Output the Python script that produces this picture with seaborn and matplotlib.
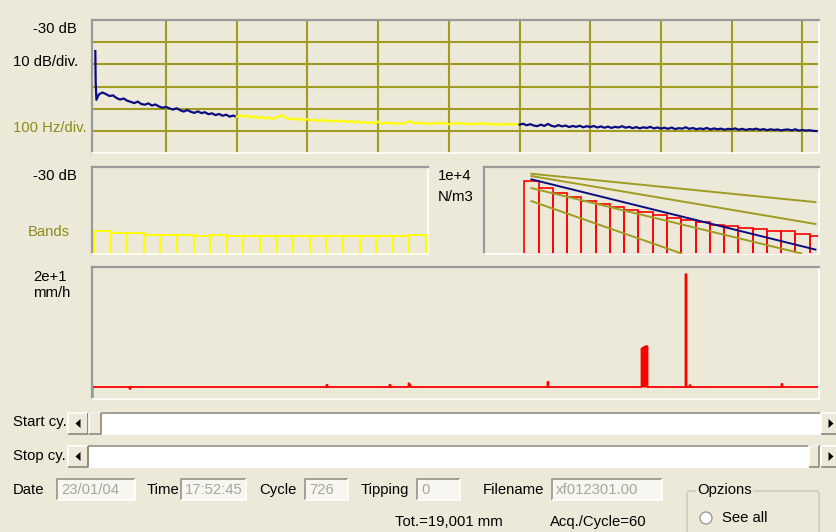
import numpy as np
import pandas as pd
import matplotlib
matplotlib.use("Agg")
import matplotlib.pyplot as plt
from matplotlib.patches import Rectangle, Polygon, Circle, FancyBboxPatch
import seaborn as sns

W, H = 837, 532
BG = "#ECE9D8"
OLIVE = "#A09B22"
OLIVE_TXT = "#8E8A1C"
NAVY = "#0C0C82"
FRAME_DARK = "#9A9A9A"
BOX_TXT = "#A8A79C"

# ---------------- spectrum, dB (10 dB/div, 100 Hz/div) ----------------
spec_low_hz = [0, 0.5, 1.5] + list(range(5, 201, 5))
spec_low_db = [-44.0, -58.0, -66.0,
               -63.6, -62.7, -63.4, -64.3, -64.0, -65.2, -65.9, -65.4, -66.4, -66.9,
               -67.5, -66.8, -67.9, -68.2, -67.6, -68.6, -68.1, -69.0, -69.6, -69.2,
               -69.9, -70.4, -69.8, -70.7, -71.3, -70.6, -71.4, -71.9, -71.2, -72.0,
               -71.6, -72.5, -72.1, -72.9, -72.4, -73.2, -72.7, -73.6, -73.1, -73.8]
spec_mid_start = 200
spec_mid_db = [-73.8, -72.9, -73.6, -73.1, -74.0, -73.4, -74.2, -73.7, -74.5, -73.9,
               -74.6, -74.1, -73.5, -72.9, -74.4, -74.8, -74.2, -75.1, -74.6, -75.3,
               -74.7, -75.4, -74.9, -75.6, -75.0, -75.7, -75.2, -75.9, -75.3, -75.8,
               -75.4, -76.1, -75.5, -76.2, -75.6, -76.4, -75.9, -76.6, -76.0, -76.7,
               -75.8, -76.9, -76.2, -76.8, -76.3, -77.0, -76.4, -76.9, -76.1, -75.7,
               -76.6, -76.2, -76.9, -76.3, -77.0, -76.5, -76.9, -76.2, -76.8, -76.4,
               -77.1, -76.5, -76.9, -76.3, -77.0, -76.6, -77.2, -76.7, -77.0, -76.4,
               -77.1, -76.6, -77.2, -76.8, -77.3, -76.9, -77.2, -76.8, -77.3, -76.9,
               -77.2]
spec_high_start = 600
spec_high_db = [-77.2, -76.8, -77.5, -77.0, -77.6, -77.9, -77.2, -77.8, -76.9, -77.7,
                -78.1, -77.4, -78.0, -77.6, -78.3, -77.8, -78.2, -77.7, -78.4, -77.9,
                -78.3, -77.8, -78.5, -78.0, -78.6, -78.1, -78.7, -78.2, -78.5, -77.9,
                -78.6, -78.2, -78.8, -78.3, -78.9, -78.4, -78.7, -78.2, -78.9, -78.5,
                -79.0, -78.6, -79.1, -78.5, -79.2, -78.8, -79.0, -78.4, -79.1, -78.7,
                -79.3, -78.9, -79.2, -78.7, -79.4, -78.9, -79.3, -79.0, -79.5, -79.1,
                -79.3, -78.9, -79.5, -79.1, -79.6, -79.2, -79.4, -79.0, -79.6, -79.2,
                -79.7, -79.3, -79.6, -79.4, -79.8, -79.5, -79.4, -79.8, -79.3, -79.9,
                -79.6, -79.9, -79.7, -80.0, -80.1]
spec_step_hz = 5

# ---------------- band levels, dB ----------------
band_db = [-74.0, -75.8, -75.8, -77.0, -77.0, -77.0, -77.7, -77.0, -77.7, -77.7,
           -77.7, -77.7, -77.7, -77.7, -77.7, -77.7, -77.7, -77.7, -77.7, -77.0]
band_floor_db = -90

# ---------------- pressure per band, N/m3 ----------------
pressure = [2260, 1070, 650, 410, 270, 190, 143, 107, 84, 59, 46,
            35, 29, 22, 19, 16, 14, 11.5, 11, 8.7, 6.5]
# reference lines: (band start, value start, band end, value end)
ref_olive = [(0.0, 4900, 19.9, 243),
             (0.0, 3850, 19.9, 24),
             (0.0, 1070, 18.9, 1.07),
             (0.0, 270, 10.5, 1.07)]
ref_blue = (0.0, 2700, 19.9, 1.6)

# ---------------- rate per cycle, mm/h ----------------
n_cycles = 726
event_cycle = [0, 38, 235, 298, 317, 318, 456, 550, 551, 552, 553, 554, 555, 594, 598, 690]
event_rate = [-1.8, -0.3, 0.35, 0.35, 0.6, 0.3, 0.85, 6.4, 6.5, 6.6, 6.7, 6.8, 6.8, 18.8, 0.3, 0.5]

# ---------------- form fields ----------------
field_labels = ["Date", "Time", "Cycle", "Tipping", "Filename"]
field_values = ["23/01/04", "17:52:45", "726", "0", "xf012301.00"]
total_text = "Tot.=19,001 mm"
acq_text = "Acq./Cycle=60"

plt.rcParams["font.family"] = ["Liberation Sans", "DejaVu Sans"]
FS = 10.7

fig = plt.figure(figsize=(W / 100, H / 100), dpi=100, facecolor=BG)


def px_axes(x0, y0, x1, y1, z=1):
    return fig.add_axes([x0 / W, 1 - y1 / H, (x1 - x0) / W, (y1 - y0) / H], zorder=z)


# background canvas in pixel units for the form controls
bg = px_axes(0, 0, W, H, z=-1)
bg.set_xlim(0, W)
bg.set_ylim(H, 0)
bg.axis("off")
bg.add_patch(Rectangle((0, 0), W, H, facecolor=BG, edgecolor="none"))


def style_panel(ax):
    ax.set_facecolor(BG)
    for s in ("top", "left"):
        ax.spines[s].set_color(FRAME_DARK)
        ax.spines[s].set_linewidth(1.6)
    for s in ("bottom", "right"):
        ax.spines[s].set_color("white")
        ax.spines[s].set_linewidth(1.2)
    ax.tick_params(length=0, labelbottom=False, labelleft=False)
    ax.set_xlabel("")
    ax.set_ylabel("")


# ---- top: spectrum ----
ax1 = px_axes(92, 20, 819, 153)
spec = pd.concat([
    pd.DataFrame({"hz": spec_low_hz, "db": spec_low_db, "range": "low"}),
    pd.DataFrame({"hz": spec_mid_start + spec_step_hz * np.arange(len(spec_mid_db)),
                  "db": spec_mid_db, "range": "mid"}),
    pd.DataFrame({"hz": spec_high_start + spec_step_hz * np.arange(len(spec_high_db)),
                  "db": spec_high_db, "range": "high"}),
], ignore_index=True)
sns.lineplot(data=spec, x="hz", y="db", hue="range",
             palette={"low": NAVY, "mid": "#FFFF00", "high": NAVY},
             estimator=None, legend=False, lw=1.6, ax=ax1)
ax1.set_xlim(-4.7, 1023.5)
ax1.set_ylim(-90, -30)
ax1.set_xticks(range(100, 1001, 100))
ax1.set_yticks(range(-80, -39, 10))
ax1.grid(True, color=OLIVE, lw=1.5)
ax1.set_axisbelow(True)
style_panel(ax1)

# ---- middle left: bands ----
ax2 = px_axes(92, 167, 428, 254)
sns.barplot(x=list(range(len(band_db))), y=np.array(band_db) - band_floor_db,
            fill=False, color="#FFFF00", saturation=1, width=1, linewidth=1.4,
            errorbar=None, ax=ax2)
ax2.set_xlim(-0.62, 19.62)
ax2.set_ylim(0, 60)
ax2.grid(False)
style_panel(ax2)

# ---- middle right: pressure per band (log) ----
ax3 = px_axes(484, 167, 819, 254)
sns.barplot(x=list(range(len(pressure))), y=np.log10(pressure),
            fill=False, color="red", saturation=1, width=1, linewidth=1.2,
            errorbar=None, ax=ax3)
for x0, v0, x1, v1 in ref_olive:
    sns.lineplot(x=[x0, x1], y=np.log10([v0, v1]), color=OLIVE, lw=1.4,
                 zorder=5, ax=ax3)
bx0, bv0, bx1, bv1 = ref_blue
sns.lineplot(x=[bx0, bx1], y=np.log10([bv0, bv1]), color=NAVY, lw=1.4,
             zorder=6, ax=ax3)
ax3.set_xlim(-3.32, 20.15)
ax3.set_ylim(0, 4)
ax3.grid(False)
style_panel(ax3)

# ---- bottom: rate per cycle ----
ax4 = px_axes(92, 267, 819, 399)
cycles = np.arange(n_cycles + 1)
rate = np.zeros(n_cycles + 1)
rate[event_cycle] = event_rate
ax4.fill_between(cycles, 0, rate, step="mid", color="red", lw=0)
sns.lineplot(x=cycles, y=rate, drawstyle="steps-mid", color="red", lw=1.3,
             estimator=None, ax=ax4)
ax4.set_xlim(0, n_cycles + 1)
ax4.set_ylim(-2, 20)
ax4.grid(False)
style_panel(ax4)


# ---- labels ----
def label(x, y, s, color="black", ha="left", size=FS):
    bg.text(x, y, s, color=color, ha=ha, va="center", fontsize=size)


label(77, 29, "-30 dB", ha="right")
label(13, 62, "10 dB/div.")
label(13, 128, "100 Hz/div.", color=OLIVE_TXT)
label(77, 176, "-30 dB", ha="right")
label(28, 232, "Bands", color=OLIVE_TXT)
label(438, 176, "1e+4")
label(438, 197, "N/m3")
label(33, 277, "2e+1")
label(33, 293, "mm/h")
label(13, 422, "Start cy.")
label(13, 456, "Stop cy.")


# ---- form controls ----
def raised(x0, y0, x1, y1):
    bg.add_patch(Rectangle((x0, y0), x1 - x0, y1 - y0, facecolor=BG, edgecolor="none"))
    bg.plot([x0, x0, x1], [y1, y0, y0], color="white", lw=1.2, solid_capstyle="butt")
    bg.plot([x0, x1, x1], [y1, y1, y0], color="#8A877A", lw=1.2, solid_capstyle="butt")


def sunken(x0, y0, x1, y1, face):
    bg.add_patch(Rectangle((x0, y0), x1 - x0, y1 - y0, facecolor=face, edgecolor="none"))
    bg.plot([x0, x0, x1], [y1, y0, y0], color="#9C9A90", lw=1.3, solid_capstyle="butt")
    bg.plot([x0, x1, x1], [y1, y1, y0], color="white", lw=1.3, solid_capstyle="butt")


def arrow(cx, cy, direction):
    d = -1 if direction == "left" else 1
    bg.add_patch(Polygon([(cx - 2.5 * d, cy - 4.5), (cx - 2.5 * d, cy + 4.5), (cx + 2.5 * d, cy)],
                         closed=True, facecolor="black", edgecolor="none"))


def scrollbar(y0, y1, thumb):
    sunken(88, y0, 821, y1, "white")
    raised(68, y0, 88, y1)
    arrow(78, (y0 + y1) / 2, "left")
    raised(821, y0, 840, y1)
    arrow(831, (y0 + y1) / 2, "right")
    raised(thumb[0], y0, thumb[1], y1)


scrollbar(413, 434, (89, 101))
scrollbar(446, 467, (809, 819))

label_x = [13, 147, 259, 361, 483]
box_x = [(57, 135), (181, 246), (305, 348), (417, 460), (552, 662)]
for lx, name, (b0, b1), val in zip(label_x, field_labels, box_x, field_values):
    label(lx, 490, name)
    sunken(b0, 479, b1, 500, "#F7F6F0")
    label(b0 + 4, 490, val, color=BOX_TXT)

label(395, 522, total_text)
label(550, 522, acq_text)

bg.add_patch(FancyBboxPatch((687, 491), 132, 60, boxstyle="round,pad=0,rounding_size=3",
                            facecolor="none", edgecolor="#C9C7BA", lw=1.0))
bg.text(697, 490, "Opzions", ha="left", va="center", fontsize=FS,
        bbox=dict(facecolor=BG, edgecolor="none", pad=1))
bg.add_patch(Circle((706, 518), 6, facecolor="white", edgecolor="#9C9A90", lw=1.0))
label(722, 518, "See all")

fig.savefig("out.png", dpi=100, facecolor=BG)
